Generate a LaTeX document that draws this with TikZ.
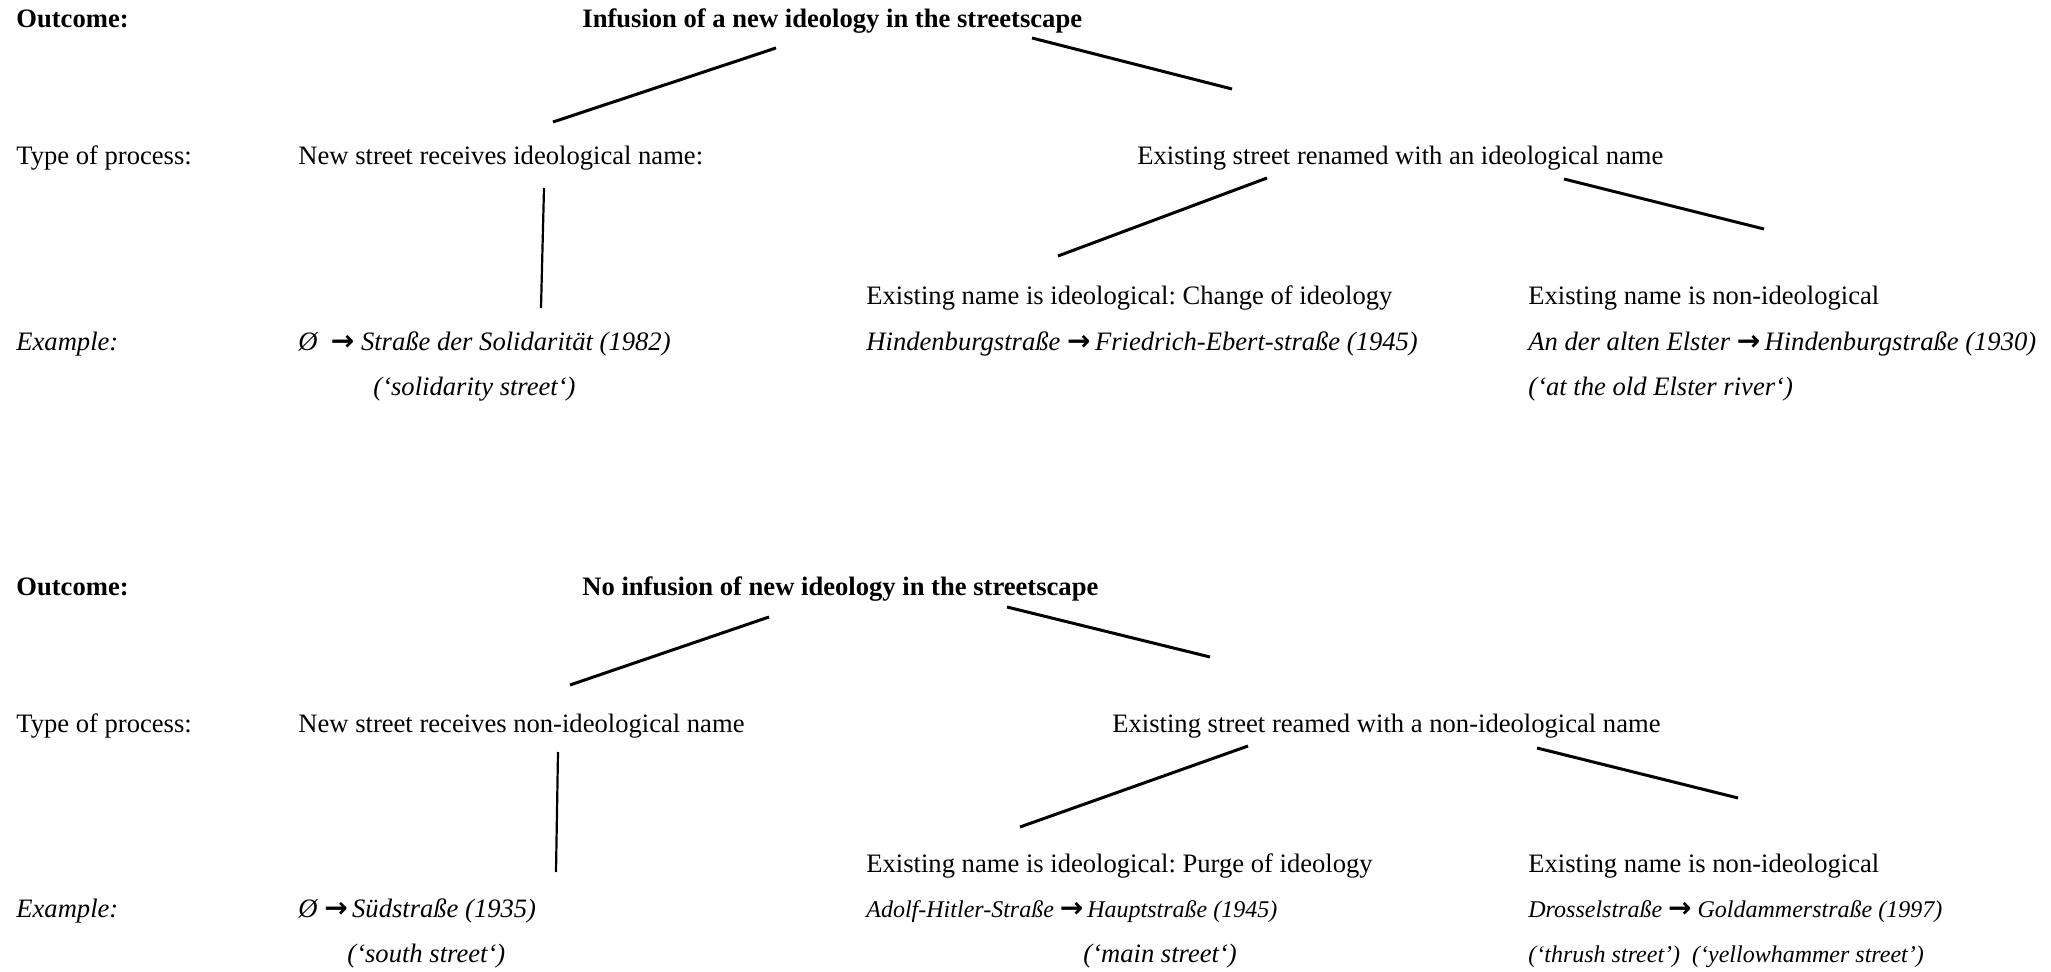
\documentclass[tikz,border=0pt]{standalone}
\usepackage{fontspec}
\setmainfont{Liberation Serif}
\newfontfamily\arrfont{DejaVu Sans}
\newcommand\myarrow{{\arrfont\bfseries\upshape\fontsize{14}{14}\selectfont →}}
\frenchspacing
\begin{document}
\begin{tikzpicture}[x=0.5pt,y=-0.5pt,
  txt/.style={anchor=base west,inner sep=0pt,font=\fontsize{13.3}{16}\selectfont},
  hd/.style={txt,font=\fontsize{13.3}{16}\selectfont\bfseries},
  ex/.style={txt,font=\fontsize{13.3}{16}\selectfont\itshape},
  exs/.style={txt,font=\fontsize{12}{14}\selectfont\itshape},
  ln/.style={line width=1.5pt},
  vln/.style={line width=1.1pt}]
\useasboundingbox (0,0) rectangle (2051,972);
% ---------- top tree ----------
\node[hd] (o1) at (16,28) {Outcome:};
\node[hd] (h1) at (582,28) {Infusion of a new ideology in the streetscape};
\node[txt] (t1) at (16,165) {Type of process:};
\node[txt] (a1) at (298,165) {New street receives ideological name:};
\node[txt] (b1) at (1137,165) {Existing street renamed with an ideological name};
\node[txt] (c1) at (866,305) {Existing name is ideological: Change of ideology};
\node[txt] (d1) at (1528,305) {Existing name is non-ideological};
\node[ex] (e1) at (16,351) {Example:};
\node[ex] (ae1) at (298,351) {Ø\ \ \myarrow\ Straße der Solidarität (1982)};
\node[ex] (ce1) at (866,351) {Hindenburgstraße \myarrow\,Friedrich-Ebert-straße (1945)};
\node[ex] (de1) at (1528,351) {An der alten Elster \myarrow\,Hindenburgstraße (1930)};
\node[ex] (ag1) at (373,396) {(‘solidarity street‘)};
\node[ex] (dg1) at (1528,396) {(‘at the old Elster river‘)};
\coordinate (p1a) at (776,48);   \coordinate (p1b) at (553,122);
\coordinate (p2a) at (1032,38);  \coordinate (p2b) at (1232,89);
\coordinate (p3a) at (544,188);  \coordinate (p3b) at (541,308);
\coordinate (p4a) at (1267,178); \coordinate (p4b) at (1058,256);
\coordinate (p5a) at (1564,179); \coordinate (p5b) at (1764,229);
\draw[ln] (p1a) -- (p1b);
\draw[ln] (p2a) -- (p2b);
\draw[vln] (p3a) -- (p3b);
\draw[ln] (p4a) -- (p4b);
\draw[ln] (p5a) -- (p5b);
% ---------- bottom tree ----------
\node[hd] (o2) at (16,596) {Outcome:};
\node[hd] (h2) at (582,596) {No infusion of new ideology in the streetscape};
\node[txt] (t2) at (16,733) {Type of process:};
\node[txt] (a2) at (298,733) {New street receives non-ideological name};
\node[txt] (b2) at (1112,733) {Existing street reamed with a non-ideological name};
\node[txt] (c2) at (866,872) {Existing name is ideological: Purge of ideology};
\node[txt] (d2) at (1528,872) {Existing name is non-ideological};
\node[ex] (e2) at (16,917) {Example:};
\node[ex] (ae2) at (298,917) {Ø \myarrow\,Südstraße (1935)};
\node[exs] (ce2) at (866,917) {Adolf-Hitler-Straße \myarrow\,Hauptstraße (1945)};
\node[exs] (de2) at (1528,917) {Drosselstraße \myarrow\ Goldammerstraße (1997)};
\node[ex] (ag2) at (347,962) {(‘south street‘)};
\node[ex] (cg2) at (1083,962) {(‘main street‘)};
\node[exs] (dg2) at (1528,962) {(‘thrush street’)\ \ (‘yellowhammer street’)};
\coordinate (q1a) at (769,617);  \coordinate (q1b) at (570,685);
\coordinate (q2a) at (1007,607); \coordinate (q2b) at (1210,657);
\coordinate (q3a) at (558,752);  \coordinate (q3b) at (556,872);
\coordinate (q4a) at (1248,746); \coordinate (q4b) at (1020,827);
\coordinate (q5a) at (1537,748); \coordinate (q5b) at (1738,798);
\draw[ln] (q1a) -- (q1b);
\draw[ln] (q2a) -- (q2b);
\draw[vln] (q3a) -- (q3b);
\draw[ln] (q4a) -- (q4b);
\draw[ln] (q5a) -- (q5b);
\end{tikzpicture}
\end{document}
